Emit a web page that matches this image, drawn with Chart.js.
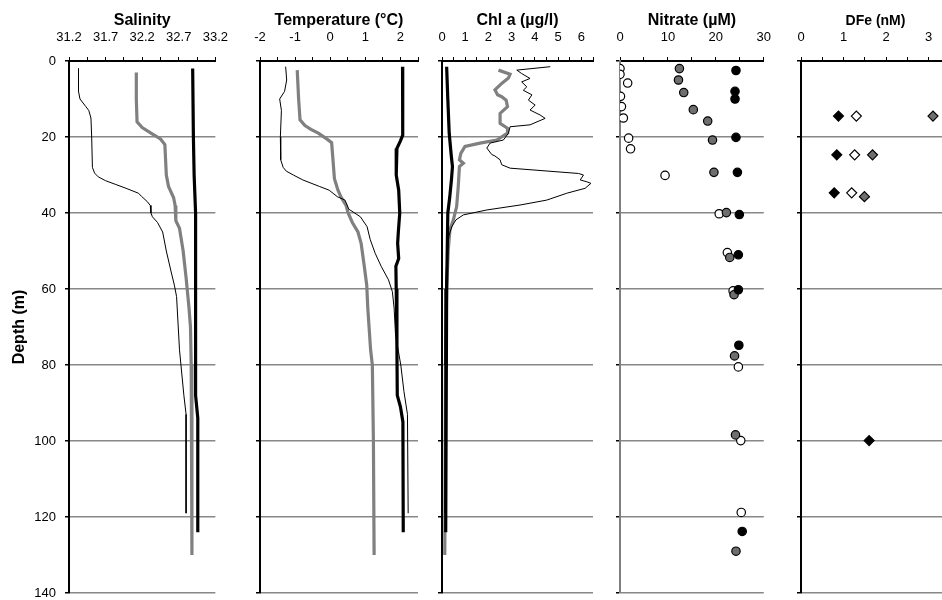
<!DOCTYPE html>
<html>
<head>
<meta charset="utf-8">
<script src="https://cdn.jsdelivr.net/npm/chart.js@4.4.0/dist/chart.umd.min.js"></script>
<style>
  html, body { margin: 0; padding: 0; background: #fff; overflow: hidden; }
  #wrap { position: relative; width: 942px; height: 600px; overflow: hidden; }
  #wrap canvas { position: absolute; top: 0; }
</style>
</head>
<body>
<div id="wrap">
  <canvas id="sal" width="240" height="600"></canvas>
  <canvas id="temp" width="190" height="600"></canvas>
  <canvas id="chl" width="185" height="600"></canvas>
  <canvas id="no3" width="190" height="600"></canvas>
  <canvas id="dfe" width="190" height="600"></canvas>
</div>
<script>
// ---- salinity profiles (depth m / value) ----
const salThinDepth = [2, 8, 10, 12, 13, 15, 20, 28, 29.5, 30.5, 31.5, 32.5, 33.5, 34.8, 35.6, 37, 38, 40, 41, 42.5, 45, 50, 55, 59, 62, 76, 88, 93, 119];
const salThin = [31.33, 31.33, 31.35, 31.43, 31.47, 31.50, 31.51, 31.52, 31.55, 31.60, 31.70, 31.84, 31.98, 32.15, 32.19, 32.27, 32.31, 32.32, 32.34, 32.41, 32.48, 32.53, 32.59, 32.64, 32.67, 32.71, 32.77, 32.80, 32.80];
const salGrayDepth = [3, 10, 16, 17.5, 19, 20.5, 22, 30, 33, 36, 38, 42, 44, 50, 57, 65, 70, 80, 100, 130];
const salGray = [32.12, 32.12, 32.13, 32.20, 32.32, 32.45, 32.51, 32.53, 32.56, 32.63, 32.65, 32.66, 32.71, 32.76, 32.80, 32.84, 32.86, 32.87, 32.88, 32.88];
const salBlackDepth = [2, 20, 30, 40, 60, 80, 88, 94, 124];
const salBlack = [32.89, 32.90, 32.91, 32.93, 32.93, 32.93, 32.93, 32.96, 32.96];

// ---- temperature profiles ----
const tempThinDepth = [1.5, 5, 8, 10, 13, 20, 26, 28, 29, 30, 31.3, 33, 34, 35.7, 36.6, 39, 41, 43.6, 47, 50.6, 54, 57.6, 60.7, 65, 72, 80, 87, 93, 119];
const tempThin = [-1.27, -1.24, -1.30, -1.44, -1.39, -1.42, -1.41, -1.34, -1.25, -1.05, -0.78, -0.31, -0.03, 0.20, 0.42, 0.53, 0.86, 1.05, 1.14, 1.28, 1.45, 1.66, 1.77, 1.82, 1.86, 2.01, 2.10, 2.20, 2.22];
const tempGrayDepth = [2.4, 10, 15.5, 17, 18, 19, 20.5, 21.5, 25, 31, 34, 36, 38, 40, 42.5, 45, 48, 54, 59, 65, 76, 80, 100, 130];
const tempGray = [-0.94, -0.90, -0.86, -0.72, -0.55, -0.34, -0.10, 0.04, 0.07, 0.12, 0.22, 0.32, 0.45, 0.51, 0.63, 0.79, 0.88, 0.97, 1.04, 1.07, 1.15, 1.20, 1.23, 1.25];
const tempBlackDepth = [1.5, 10, 19.5, 21, 23, 30, 34, 40, 45, 48, 52, 54, 60, 76, 88, 91, 95, 124];
const tempBlack = [2.06, 2.07, 2.06, 2.00, 1.90, 1.88, 1.95, 1.98, 1.94, 1.92, 1.95, 1.87, 1.88, 1.90, 1.91, 2.00, 2.07, 2.08];

// ---- chlorophyll a profiles ----
const chlThinDepth = [1.5, 2.4, 3.3, 4.6, 5.5, 6.8, 7.7, 8.9, 10.3, 11.6, 12.9, 14.2, 15.1, 16.8, 17.3, 19, 20.8, 21.6, 22.9, 24.6, 25, 26, 27.3, 28.2, 29.6, 30, 31.3, 31.8, 32.2, 33.5, 34.8, 36.6, 37.9, 39.2, 40.5, 41.8, 43.6, 46, 50, 60, 80, 119];
const chlThin = [4.66, 3.22, 3.43, 3.79, 3.43, 3.65, 3.50, 3.87, 3.72, 4.01, 3.79, 4.22, 4.44, 3.79, 2.93, 2.86, 2.64, 2.07, 1.93, 2.14, 2.28, 2.50, 2.57, 2.93, 5.88, 6.09, 5.95, 6.24, 6.41, 6.16, 5.37, 4.51, 3.36, 1.93, 0.92, 0.60, 0.42, 0.30, 0.22, 0.16, 0.13, 0.12];
const chlGrayDepth = [2.4, 3.5, 4.5, 5.9, 7.6, 8.9, 9.4, 10.3, 12, 13.8, 16.4, 17.7, 19, 20.8, 21.6, 22.5, 24.3, 26, 26.9, 27.8, 33, 38.3, 41.8, 44.5, 49.7, 60, 80, 130];
const chlGray = [2.43, 2.93, 2.86, 2.57, 2.28, 2.39, 2.57, 2.76, 2.82, 2.50, 2.50, 2.82, 2.82, 2.36, 1.64, 0.99, 0.81, 0.75, 0.92, 0.75, 0.70, 0.63, 0.49, 0.34, 0.27, 0.20, 0.15, 0.12];
const chlBlackDepth = [1.5, 10, 19, 25, 27.8, 31, 36, 40, 60, 124];
const chlBlack = [0.20, 0.25, 0.31, 0.40, 0.45, 0.41, 0.33, 0.25, 0.20, 0.16];

// ---- nitrate samples ----
const no3WhiteDepth = [2, 3.5, 5.8, 9.3, 12, 15, 20.3, 23.1, 30.1, 40.2, 50.4, 60.5, 80.5, 99.9, 118.8];
const no3White = [0, 0, 1.6, 0.1, 0.3, 0.7, 1.8, 2.2, 9.4, 20.7, 22.4, 23.6, 24.7, 25.2, 25.3];
const no3GrayDepth = [2, 5, 8.3, 12.8, 15.8, 20.8, 29.3, 39.9, 51.7, 61.5, 77.6, 98.4, 129];
const no3Gray = [12.4, 12.2, 13.3, 15.3, 18.3, 19.3, 19.6, 22.2, 22.9, 23.8, 23.9, 24.1, 24.2];
const no3BlackDepth = [2.5, 8, 10, 20.1, 29.3, 40.4, 51, 60.2, 74.8, 123.8];
const no3Black = [24.2, 24.0, 24.0, 24.2, 24.5, 24.9, 24.7, 24.7, 24.8, 25.5];

// ---- dissolved iron samples ----
const dfeBlackDepth = [14.5, 24.7, 34.7, 99.9];
const dfeBlack = [0.88, 0.84, 0.78, 1.60];
const dfeWhiteDepth = [14.5, 24.7, 34.7];
const dfeWhite = [1.30, 1.26, 1.19];
const dfeGrayDepth = [14.5, 24.7, 35.7];
const dfeGray = [3.10, 1.68, 1.49];

const GRAY = '#808080';
const MARK_GRAY = '#6e6e6e';

Chart.defaults.font.family = "'Liberation Sans', Arial, sans-serif";
Chart.defaults.color = '#000';

function pts(depths, vals) {
  return vals.map((v, i) => ({ x: v, y: depths[i] }));
}

function line(depths, vals, color, width) {
  return { data: pts(depths, vals), showLine: true, pointRadius: 0, borderColor: color, borderWidth: width, fill: false, tension: 0 };
}

function marks(depths, vals, fill, style, r) {
  return { data: pts(depths, vals), showLine: false, pointStyle: style, pointRadius: r, pointHoverRadius: r,
           backgroundColor: fill, borderColor: '#000', borderWidth: 1.2 };
}

function makePanel(p) {
  const cv = document.getElementById(p.id);
  cv.style.left = p.left + 'px';
  return new Chart(cv, {
    type: 'scatter',
    data: { datasets: p.datasets },
    options: {
      responsive: false,
      animation: false,
      devicePixelRatio: 1,
      layout: { padding: { left: 0, top: 0, right: p.padRight, bottom: 7 } },
      plugins: { legend: { display: false }, tooltip: { enabled: false } },
      scales: {
        x: {
          type: 'linear', position: 'top', min: p.min, max: p.max,
          ticks: { stepSize: p.step, maxTicksLimit: 100, autoSkip: false, maxRotation: 0, padding: 12,
                   font: { size: 13 }, color: '#000', callback: p.label },
          grid: { drawOnChartArea: false, drawTicks: true, tickLength: 4, color: '#000', lineWidth: 1 },
          border: { color: '#000', width: 2 },
          title: { display: true, text: p.title, font: { size: p.titleSize || 16, weight: 'bold' },
                   padding: { top: p.titlePad || 11, bottom: 0 } },
          afterFit: s => { s.height = 61; }
        },
        y: {
          type: 'linear', reverse: true, min: 0, max: 140,
          ticks: { stepSize: 20, maxTicksLimit: 100, display: !!p.depthLabels, padding: 9, font: { size: 13 }, color: '#000' },
          grid: { color: c => (c.tick && c.tick.value === 0) ? 'rgba(0,0,0,0)' : '#888',
                  lineWidth: 1.5, tickColor: '#000', tickLength: 4, tickWidth: 1.5 },
          border: { display: true, color: p.axisColor || '#000', width: 2 },
          title: { display: !!p.depthLabels, text: 'Depth (m)', font: { size: 16, weight: 'bold' }, padding: { top: 10, bottom: 0 } },
          afterFit: s => { s.width = p.yWidth; s.paddingTop = 0; s.paddingBottom = 0; }
        }
      }
    }
  });
}

const onEvery = (n, digits) => (v, i) => (i % n === 0 ? Number(v).toFixed(digits) : '');
const intOnly = v => { const r = Math.round(v); return Math.abs(v - r) < 1e-6 ? String(r) : ''; };

makePanel({
  id: 'sal', left: 0, yWidth: 69, padRight: 14, depthLabels: true,
  title: 'Salinity', min: 31.2, max: 33.2, step: 0.25, label: onEvery(2, 1),
  datasets: [
    line(salThinDepth, salThin, '#000', 1),
    line(salBlackDepth, salBlack, '#000', 3.2),
    line(salGrayDepth, salGray, GRAY, 3.2)
  ]
});

makePanel({
  id: 'temp', left: 240, yWidth: 20, padRight: 10,
  title: 'Temperature (°C)', min: -2, max: 2.5, step: 0.5, label: intOnly,
  datasets: [
    line(tempThinDepth, tempThin, '#000', 1),
    line(tempBlackDepth, tempBlack, '#000', 3.2),
    line(tempGrayDepth, tempGray, GRAY, 3.2)
  ]
});

makePanel({
  id: 'chl', left: 420, yWidth: 22, padRight: 12,
  title: 'Chl a (µg/l)', min: 0, max: 6.5, step: 0.5, label: intOnly,
  datasets: [
    line(chlThinDepth, chlThin, '#000', 1),
    line(chlBlackDepth, chlBlack, '#000', 3.2),
    line(chlGrayDepth, chlGray, GRAY, 3.2)
  ]
});

makePanel({
  id: 'no3', left: 593, yWidth: 27, padRight: 11, axisColor: GRAY,
  title: 'Nitrate (µM)', min: 0, max: 30, step: 5, label: v => (Math.round(v) % 10 === 0 ? String(Math.round(v)) : ''),
  datasets: [
    marks(no3BlackDepth, no3Black, '#000', 'circle', 4.2),
    marks(no3GrayDepth, no3Gray, MARK_GRAY, 'circle', 4.2),
    marks(no3WhiteDepth, no3White, '#fff', 'circle', 4.2)
  ]
});

makePanel({
  id: 'dfe', left: 772, yWidth: 29, padRight: 9,
  title: 'DFe (nM)', titleSize: 14, titlePad: 13, min: 0, max: 3.5, step: 0.5, label: intOnly,
  datasets: [
    marks(dfeBlackDepth, dfeBlack, '#000', 'rectRot', 5),
    marks(dfeWhiteDepth, dfeWhite, '#fff', 'rectRot', 5),
    marks(dfeGrayDepth, dfeGray, MARK_GRAY, 'rectRot', 5)
  ]
});
</script>
</body>
</html>
